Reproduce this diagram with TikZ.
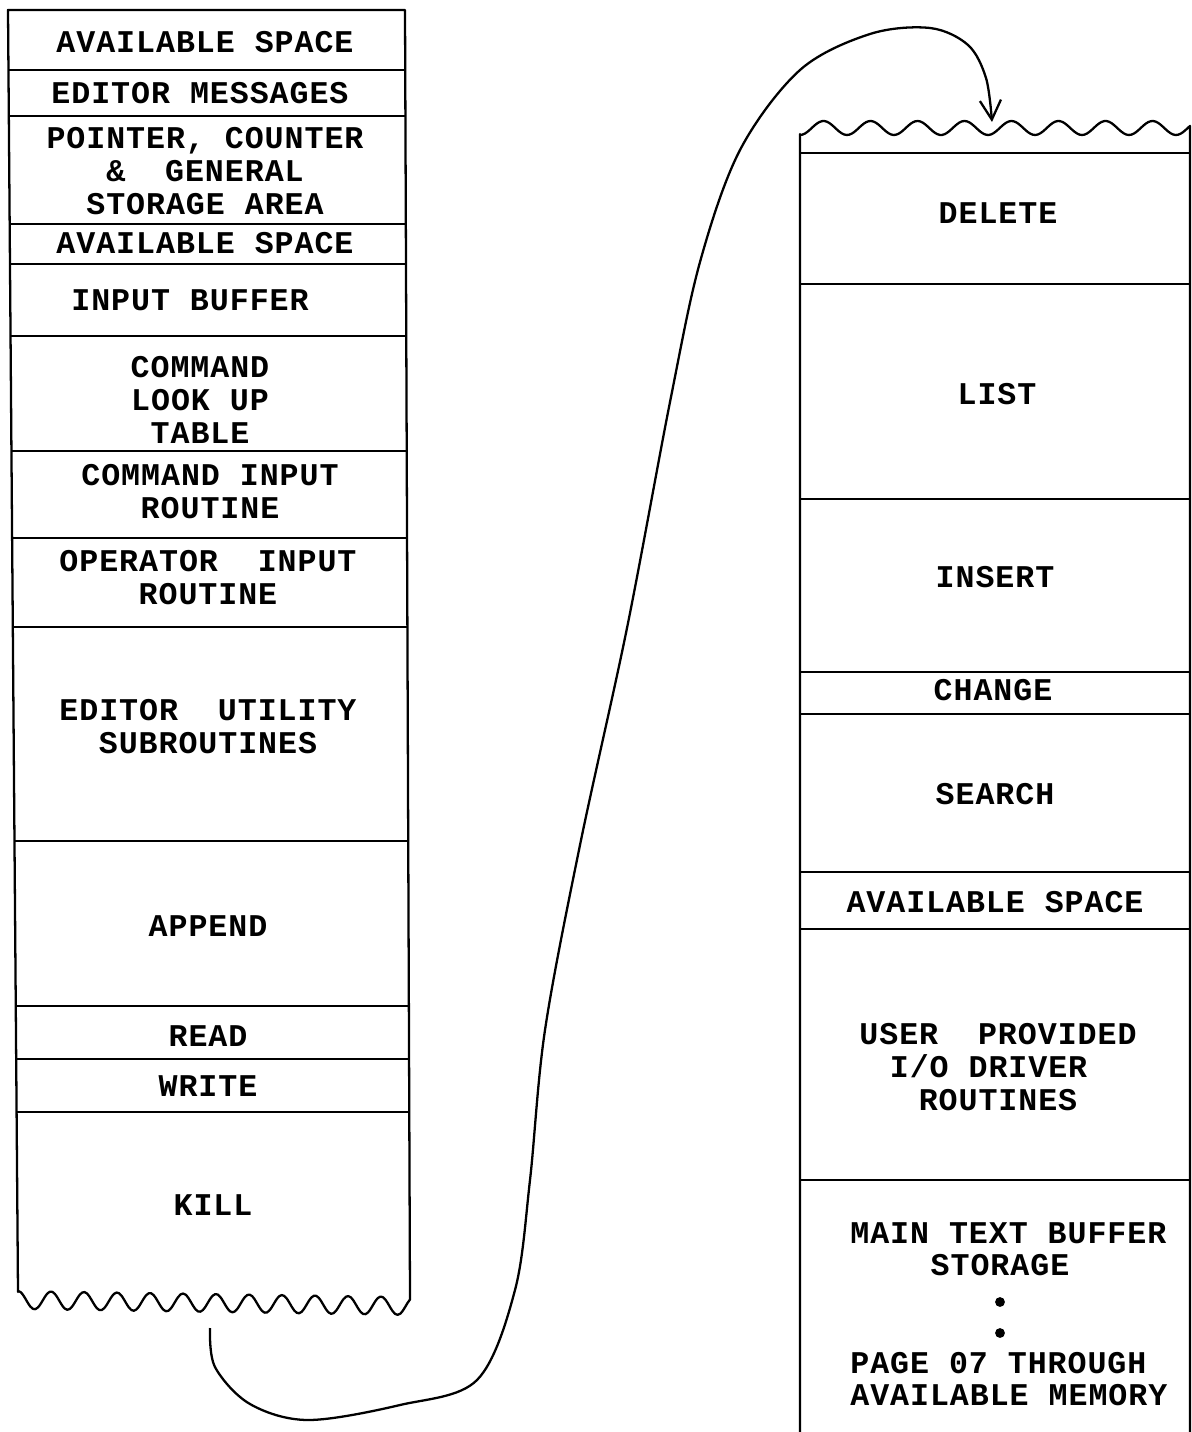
\documentclass[tikz,border=0pt]{standalone}
\usepackage{fontspec}
\newfontfamily\typefont{Liberation Mono}[LetterSpace=3.0]
\usetikzlibrary{arrows.meta}

\begin{document}
\begin{tikzpicture}[
    x=0.02cm, y=-0.02cm,
    wall/.style={line width=1.3pt, line join=round},
    lbl/.style={font=\typefont\bfseries\fontsize{18pt}{18.8pt}\selectfont, align=center, inner sep=0pt},
    jump/.style={line width=1.3pt, -{Straight Barb[length=11pt,width=12pt]}}
]
\useasboundingbox (0,0) rectangle (1192,1432);

% left column, torn at the bottom
\draw[wall] (8,10) -- (18,1292)
    -- plot[domain=18:410, samples=160, smooth] (\x,{1300+6*(\x-18)/392-9*cos((\x-18)/33*360)})
    -- (405,10) -- cycle;
\foreach \y in {70,116,224,264,336,451,538,627,841,1006,1059,1112}
    \draw[wall] ({8+10*(\y-10)/1282},\y) -- ({405+5*(\y-10)/1290},\y);

% right column, torn at the top
\draw[wall] (800,1432) -- (800,134)
    -- plot[domain=800:1190, samples=160, smooth] (\x,{128+7*cos((\x-800)/47*360)})
    -- (1190,1432);
\foreach \y in {153,284,499,672,714,872,929,1180}
    \draw[wall] (800,\y) -- (1190,\y);

% left column labels
\node[lbl] (availTop) at (205,42) {AVAILABLE SPACE};
\node[lbl] (edMsg) at (200,93) {EDITOR MESSAGES};
\node[lbl] (ptrArea) at (205,171) {POINTER, COUNTER\\\&~~GENERAL\\STORAGE AREA};
\node[lbl] (availMid) at (205,243) {AVAILABLE SPACE};
\node[lbl] (inBuf) at (190,300) {INPUT BUFFER};
\node[lbl] (cmdTable) at (200,400) {COMMAND\\LOOK UP\\TABLE};
\node[lbl] (cmdIn) at (210,492) {COMMAND INPUT\\ROUTINE};
\node[lbl] (opIn) at (208,578) {OPERATOR~~INPUT\\ROUTINE};
\node[lbl] (edUtil) at (208,727) {EDITOR~~UTILITY\\SUBROUTINES};
\node[lbl] (append) at (208,926) {APPEND};
\node[lbl] (read) at (208,1036) {READ};
\node[lbl] (write) at (208,1086) {WRITE};
\node[lbl] (kill) at (213,1205) {KILL};

% right column labels
\node[lbl] (delete) at (998,213) {DELETE};
\node[lbl] (list) at (997,394) {LIST};
\node[lbl] (insert) at (995,577) {INSERT};
\node[lbl] (change) at (993,690) {CHANGE};
\node[lbl] (search) at (995,794) {SEARCH};
\node[lbl] (availRight) at (995,902) {AVAILABLE SPACE};
\node[lbl] (userIO) at (998,1067) {USER~~PROVIDED\\I/O DRIVER\phantom{X}\\ROUTINES};
\node[lbl, anchor=west] (mainBuf) at (850,1233) {MAIN TEXT BUFFER};
\node[lbl] (storage) at (1000,1265) {STORAGE};
\fill (1000,1302) circle[radius=2.8pt] (1000,1333) circle[radius=2.8pt];
\node[lbl, anchor=west] (pageFrom) at (850,1363) {PAGE 07 THROUGH};
\node[lbl, anchor=west] (availMem) at (850,1395) {AVAILABLE MEMORY};

% continuation from the bottom of one column to the top of the next
\coordinate (tail) at (210,1328);
\coordinate (head) at (992,122);
\draw[jump] plot[smooth, tension=0.55] coordinates {(tail) (215,1367) (250,1404) (308,1420)
    (400,1405) (477,1380) (515,1290) (530,1180) (545,1030) (580,845) (627,628) (670,402)
    (700,262) (740,150) (800,70) (870,34) (930,28) (968,45) (986,78) (head)};
\end{tikzpicture}
\end{document}
